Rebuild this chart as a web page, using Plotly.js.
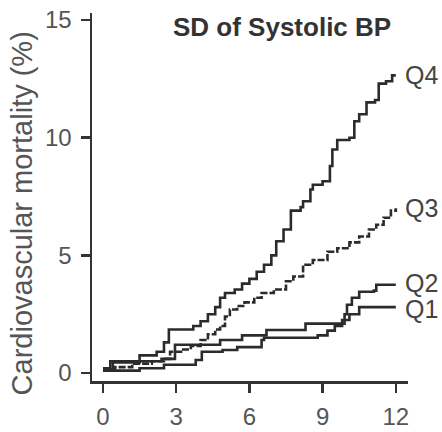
<!DOCTYPE html>
<html><head><meta charset="utf-8">
<script src="https://cdn.plot.ly/plotly-3.0.1.min.js"></script>
<style>html,body{margin:0;padding:0;background:#fff}#chart{width:442px;height:432px}</style>
</head><body><div id="chart"></div>
<script>
// Follow-up (years) and cumulative cardiovascular mortality (%) per quartile of SD of systolic BP
const q4x = [0, 0.3, 1.5, 2.2, 2.5, 2.7, 3.7, 4.0, 4.3, 4.6, 4.8, 5.0, 5.4, 5.7, 6.0, 6.3, 6.6, 6.9, 7.1, 7.4, 7.7, 8.1, 8.2, 8.5, 8.6, 9.0, 9.3, 9.4, 9.6, 10.1, 10.3, 10.5, 10.8, 11.15, 11.3, 11.6, 11.85, 12.0];
const q4y = [0.2, 0.5, 0.75, 0.9, 1.3, 1.85, 2.0, 2.2, 2.5, 2.8, 3.2, 3.4, 3.55, 3.8, 4.0, 4.3, 4.6, 5.0, 5.6, 6.1, 6.9, 7.05, 7.3, 7.8, 8.0, 8.15, 8.8, 9.5, 9.9, 10.0, 10.7, 11.0, 11.5, 11.6, 12.3, 12.4, 12.65, 12.65];
const q3x = [0, 0.5, 1.2, 2.0, 2.5, 2.75, 3.2, 3.6, 4.0, 4.3, 4.6, 4.8, 5.0, 5.2, 5.5, 5.8, 6.2, 6.5, 7.0, 7.5, 7.8, 8.2, 8.6, 9.2, 9.6, 10.1, 10.5, 10.9, 11.2, 11.5, 11.8, 12.0];
const q3y = [0.15, 0.25, 0.4, 0.5, 0.6, 0.9, 1.0, 1.15, 1.4, 1.65, 1.85, 2.0, 2.4, 2.7, 2.85, 3.0, 3.2, 3.4, 3.55, 3.9, 4.1, 4.6, 4.8, 5.15, 5.3, 5.55, 5.8, 6.1, 6.3, 6.6, 6.9, 7.0];
const q2x = [0, 0.4, 1.5, 2.4, 2.95, 4.8, 5.7, 6.7, 8.3, 9.9, 10.0, 10.2, 10.5, 11.1, 11.2, 12.0];
const q2y = [0.15, 0.45, 0.5, 0.6, 1.2, 1.4, 1.6, 1.83, 2.1, 2.5, 2.9, 3.2, 3.45, 3.5, 3.75, 3.75];
const q1x = [0, 1.5, 2.5, 3.8, 4.05, 4.9, 5.5, 6.5, 6.6, 8.5, 8.8, 9.2, 9.5, 9.8, 10.1, 10.5, 12.0];
const q1y = [0.1, 0.2, 0.35, 0.55, 0.9, 0.98, 1.1, 1.4, 1.5, 1.5, 1.6, 1.8, 2.0, 2.25, 2.5, 2.8, 2.8];
const seriesNames = ["Q1", "Q2", "Q3", "Q4"];
const xTicks = [0, 3, 6, 9, 12];
const yTicks = [0, 5, 10, 15];

const FONT = "Liberation Sans, Arial, sans-serif";
const lineCol = "#2b2b2b";
const xs = [q1x, q2x, q3x, q4x];
const ys = [q1y, q2y, q3y, q4y];
const traces = xs.map((x, i) => ({
  x: x, y: ys[i], type: "scatter", mode: "lines", name: seriesNames[i],
  line: {shape: "hv", color: lineCol, width: 2.6, dash: i === 2 ? "7px,2px" : "solid"},
  hoverinfo: "skip"
}));

const yShifts = [-2, 2, 0, 0];
const annotations = xs.map((x, i) => ({
  x: x[x.length - 1], y: ys[i][ys[i].length - 1], xref: "x", yref: "y",
  text: seriesNames[i], showarrow: false, xanchor: "left", xshift: 7, yshift: yShifts[i],
  font: {family: FONT, size: 25, color: "#444"}
}));
annotations.push({
  x: 0.6, y: 0.962, xref: "paper", yref: "paper", text: "<b>SD of Systolic BP</b>",
  showarrow: false, xanchor: "center", yanchor: "middle",
  font: {family: FONT, size: 26, color: "#333"}
});
annotations.push({
  x: -0.222, y: 0.455, xref: "paper", yref: "paper", text: "Cardiovascular mortality (%)",
  textangle: -90, showarrow: false, xanchor: "center", yanchor: "middle",
  font: {family: FONT, size: 29, color: "#555"}
});

const layout = {
  width: 442, height: 432,
  margin: {l: 92, r: 34, t: 13, b: 51},
  paper_bgcolor: "#fff", plot_bgcolor: "#fff",
  showlegend: false,
  font: {family: FONT, color: "#555"},
  xaxis: {
    range: [-0.45, 12.5], tickvals: xTicks, ticktext: xTicks.map(String),
    showgrid: false, zeroline: false, showline: true, linecolor: "#333", linewidth: 2.5,
    ticks: "outside", ticklen: 9, tickwidth: 2.5, tickcolor: "#333",
    tickfont: {size: 24, color: "#555"}, ticklabelstandoff: 4
  },
  yaxis: {
    range: [-0.34, 15.3], tickvals: yTicks, ticktext: yTicks.map(String),
    showgrid: false, zeroline: false, showline: true, linecolor: "#333", linewidth: 2.5,
    ticks: "outside", ticklen: 9, tickwidth: 2.5, tickcolor: "#333",
    tickfont: {size: 24, color: "#555"}, ticklabelstandoff: 4
  },
  annotations: annotations
};
Plotly.newPlot("chart", traces, layout, {staticPlot: true, displayModeBar: false});
</script></body></html>
